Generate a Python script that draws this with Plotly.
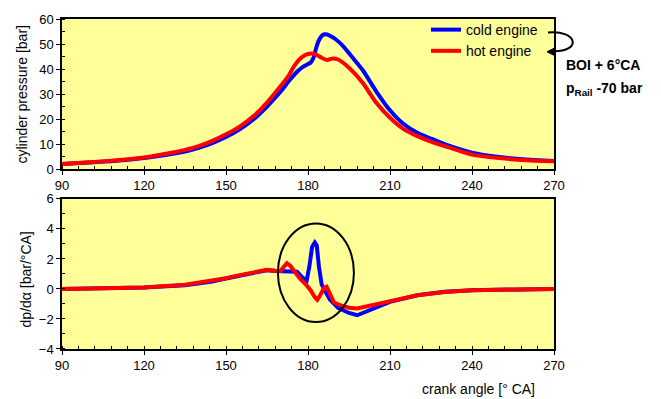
import plotly.graph_objects as go

# ---------------- data ----------------
ca_p_cold = [90, 100, 110, 120, 130, 135, 140, 145, 150, 155, 160, 165, 170, 173, 176, 178, 180, 181,
             182, 183, 184, 185, 186, 187, 188, 190, 193, 196, 200, 205, 210, 215, 220, 225, 230,
             240, 250, 260, 270]
p_cold = [2.0, 2.6, 3.3, 4.4, 6.0, 7.0, 8.5, 10.4, 12.8, 15.9, 19.8, 25.0, 31.0, 35.2, 38.9, 40.8,
          42.0, 42.6, 44.5, 48.5, 51.5, 53.2, 53.9, 53.8, 53.3, 52.0, 49.0, 45.0, 39.6, 31.0, 23.5,
          18.0, 14.5, 12.2, 10.0, 6.6, 4.8, 3.8, 3.2]

ca_p_hot = [90, 100, 110, 120, 130, 135, 140, 145, 150, 155, 160, 165, 170, 173, 175, 177, 179, 181,
            183, 185, 187, 189, 191, 195, 200, 205, 210, 215, 220, 225, 230, 240, 250, 260, 270]
p_hot = [2.0, 2.7, 3.5, 4.6, 6.5, 7.7, 9.2, 11.3, 13.9, 17.0, 21.1, 26.6, 33.2, 37.5, 41.3, 44.0,
         45.6, 46.2, 45.8, 44.5, 43.6, 44.2, 43.8, 40.5, 34.5, 26.5, 20.5, 16.0, 13.2, 11.0, 9.2,
         5.8, 4.4, 3.5, 3.1]

ca_d_cold = [90, 120, 135, 145, 150, 155, 160, 165, 168, 170, 172, 176, 178, 179.5, 180.5, 181.5,
             182.5, 183.2, 184, 185, 186.5, 188, 191, 195, 198, 203, 210, 220, 230, 240, 255, 270]
d_cold = [0.0, 0.1, 0.25, 0.5, 0.7, 0.9, 1.1, 1.25, 1.2, 1.18, 1.15, 1.15, 0.75, 0.55, 1.5, 2.8,
          3.1, 2.9, 1.5, 0.3, -0.2, -0.7, -1.25, -1.6, -1.75, -1.4, -0.86, -0.42, -0.18, -0.08,
          -0.02, 0.0]

ca_d_hot = [90, 120, 135, 145, 150, 155, 160, 165, 168, 170, 171, 172.3, 173.5, 175, 177, 179, 181,
            182.5, 183.4, 184.5, 185.8, 186.8, 188, 189.5, 192, 195, 198, 203, 210, 220, 230, 240,
            255, 270]
d_hot = [0.0, 0.1, 0.28, 0.55, 0.72, 0.92, 1.12, 1.28, 1.22, 1.2, 1.45, 1.72, 1.55, 1.15, 0.7, 0.35,
         -0.1, -0.55, -0.72, -0.4, 0.05, 0.15, -0.3, -0.9, -1.1, -1.25, -1.3, -1.1, -0.78, -0.42,
         -0.2, -0.09, -0.03, 0.0]

x_ticks = [90, 120, 150, 180, 210, 240, 270]
series_names = ["cold engine", "hot engine"]
colors = ["#0000FF", "#FF0000"]

# ---------------- layout geometry ----------------
W, H = 661, 399
L, R, T, B = 62, 554, 17, 349


def px2x(px):
    return (px - L) / (R - L)


def py2y(py):
    return (B - py) / (B - T)


top_dom = [py2y(168), 1.0]
bot_dom = [0.0, py2y(198)]

FONT = "Liberation Sans, Arial, sans-serif"
BG = "#FFFF99"

fig = go.Figure()
fig.add_trace(go.Scatter(x=ca_p_cold, y=p_cold, mode="lines", name=series_names[0],
                         line=dict(color=colors[0], width=4, shape="spline", smoothing=0.6),
                         xaxis="x", yaxis="y"))
fig.add_trace(go.Scatter(x=ca_p_hot, y=p_hot, mode="lines", name=series_names[1],
                         line=dict(color=colors[1], width=4, shape="spline", smoothing=0.6),
                         xaxis="x", yaxis="y"))
fig.add_trace(go.Scatter(x=ca_d_cold, y=d_cold, mode="lines", showlegend=False,
                         line=dict(color=colors[0], width=4),
                         xaxis="x2", yaxis="y2"))
fig.add_trace(go.Scatter(x=ca_d_hot, y=d_hot, mode="lines", showlegend=False,
                         line=dict(color=colors[1], width=4),
                         xaxis="x2", yaxis="y2"))

tickfont = dict(family=FONT, size=13, color="black")


def main_x(anchor):
    return dict(range=[90, 270], tickvals=x_ticks, ticks="outside", ticklen=4, tickwidth=1,
                tickcolor="black", showline=True, linecolor="black", linewidth=1.5, mirror=True,
                showgrid=False, zeroline=False, tickfont=tickfont, anchor=anchor,
                minor=dict(ticks="inside", ticklen=3, dtick=6, tick0=90, tickcolor="black"))


def main_y(rng, dtick, mdtick, domain, anchor):
    return dict(range=rng, dtick=dtick, ticks="outside", ticklen=4, tickwidth=1, tickcolor="black",
                showline=True, linecolor="black", linewidth=1.5, mirror=True, showgrid=False,
                zeroline=False, tickfont=tickfont, domain=domain, anchor=anchor,
                minor=dict(ticks="inside", ticklen=3, dtick=mdtick, tickcolor="black"))


def over_x(ov, anchor):
    return dict(range=[90, 270], overlaying=ov, side="top", anchor=anchor, tickvals=x_ticks,
                ticks="inside", ticklen=4, tickcolor="black", showticklabels=False, showgrid=False,
                zeroline=False, showline=False,
                minor=dict(ticks="inside", ticklen=3, dtick=6, tick0=90, tickcolor="black"))


def over_y(rng, dtick, mdtick, ov, anchor):
    return dict(range=rng, overlaying=ov, side="right", anchor=anchor, dtick=dtick, ticks="inside",
                ticklen=4, tickcolor="black", showticklabels=False, showgrid=False,
                zeroline=False, showline=False,
                minor=dict(ticks="inside", ticklen=3, dtick=mdtick, tickcolor="black"))


# Arrow from legend text "cold engine" to "hot engine"
def P(px, py):
    return f"{px2x(px):.5f},{py2y(py):.5f}"


arrow_path = f"M {P(548, 30.5)} C {P(578, 28)} {P(582, 50)} {P(553, 49.5)}"
head_path = f"M {P(547, 50)} L {P(555, 46)} L {P(555, 54)} Z"

fig.update_layout(
    width=W, height=H,
    margin=dict(l=L, r=W - R, t=T, b=H - B, pad=0),
    paper_bgcolor="white",
    plot_bgcolor=BG,
    font=dict(family=FONT, size=13, color="black"),
    xaxis=main_x("y"),
    yaxis=main_y([0, 60], 10, 5, top_dom, "x"),
    xaxis2=main_x("y2"),
    yaxis2=main_y([-4, 6], 2, 1, bot_dom, "x2"),
    xaxis3=over_x("x", "y"),
    yaxis3=over_y([0, 60], 10, 5, "y", "x"),
    xaxis4=over_x("x2", "y2"),
    yaxis4=over_y([-4, 6], 2, 1, "y2", "x2"),
    showlegend=True,
    legend=dict(x=px2x(426), y=py2y(12), xanchor="left", yanchor="top",
                bgcolor="rgba(0,0,0,0)", borderwidth=0,
                font=dict(family=FONT, size=14, color="black"), tracegroupgap=0),
    shapes=[
        dict(type="circle", xref="x2", yref="y2", x0=169, x1=196.8, y0=-2.2, y1=4.36,
             line=dict(color="black", width=2)),
        dict(type="path", xref="paper", yref="paper", path=arrow_path,
             line=dict(color="black", width=2)),
        dict(type="path", xref="paper", yref="paper", path=head_path,
             fillcolor="black", line=dict(color="black", width=1)),
    ],
    annotations=[
        dict(text="<b>BOI + 6°CA</b>", xref="paper", yref="paper", x=px2x(564), y=py2y(63.5),
             xanchor="left", yanchor="middle", showarrow=False,
             font=dict(family=FONT, size=14, color="black")),
        dict(text="<b>p<sub>Rail</sub> -70 bar</b>", xref="paper", yref="paper", x=px2x(564),
             y=py2y(87), xanchor="left", yanchor="middle", showarrow=False,
             font=dict(family=FONT, size=14, color="black")),
        dict(text="cylinder pressure [bar]", xref="paper", yref="paper", x=px2x(22), y=py2y(93),
             xanchor="center", yanchor="middle", textangle=-90, showarrow=False,
             font=dict(family=FONT, size=14, color="black")),
        dict(text="dp/dα [bar/°CA]", xref="paper", yref="paper", x=px2x(26), y=py2y(279),
             xanchor="center", yanchor="middle", textangle=-90, showarrow=False,
             font=dict(family=FONT, size=14, color="black")),
        dict(text="crank angle [° CA]", xref="paper", yref="paper", x=px2x(478), y=py2y(389),
             xanchor="center", yanchor="middle", showarrow=False,
             font=dict(family=FONT, size=14, color="black")),
    ],
)

fig.write_html("out.html")
